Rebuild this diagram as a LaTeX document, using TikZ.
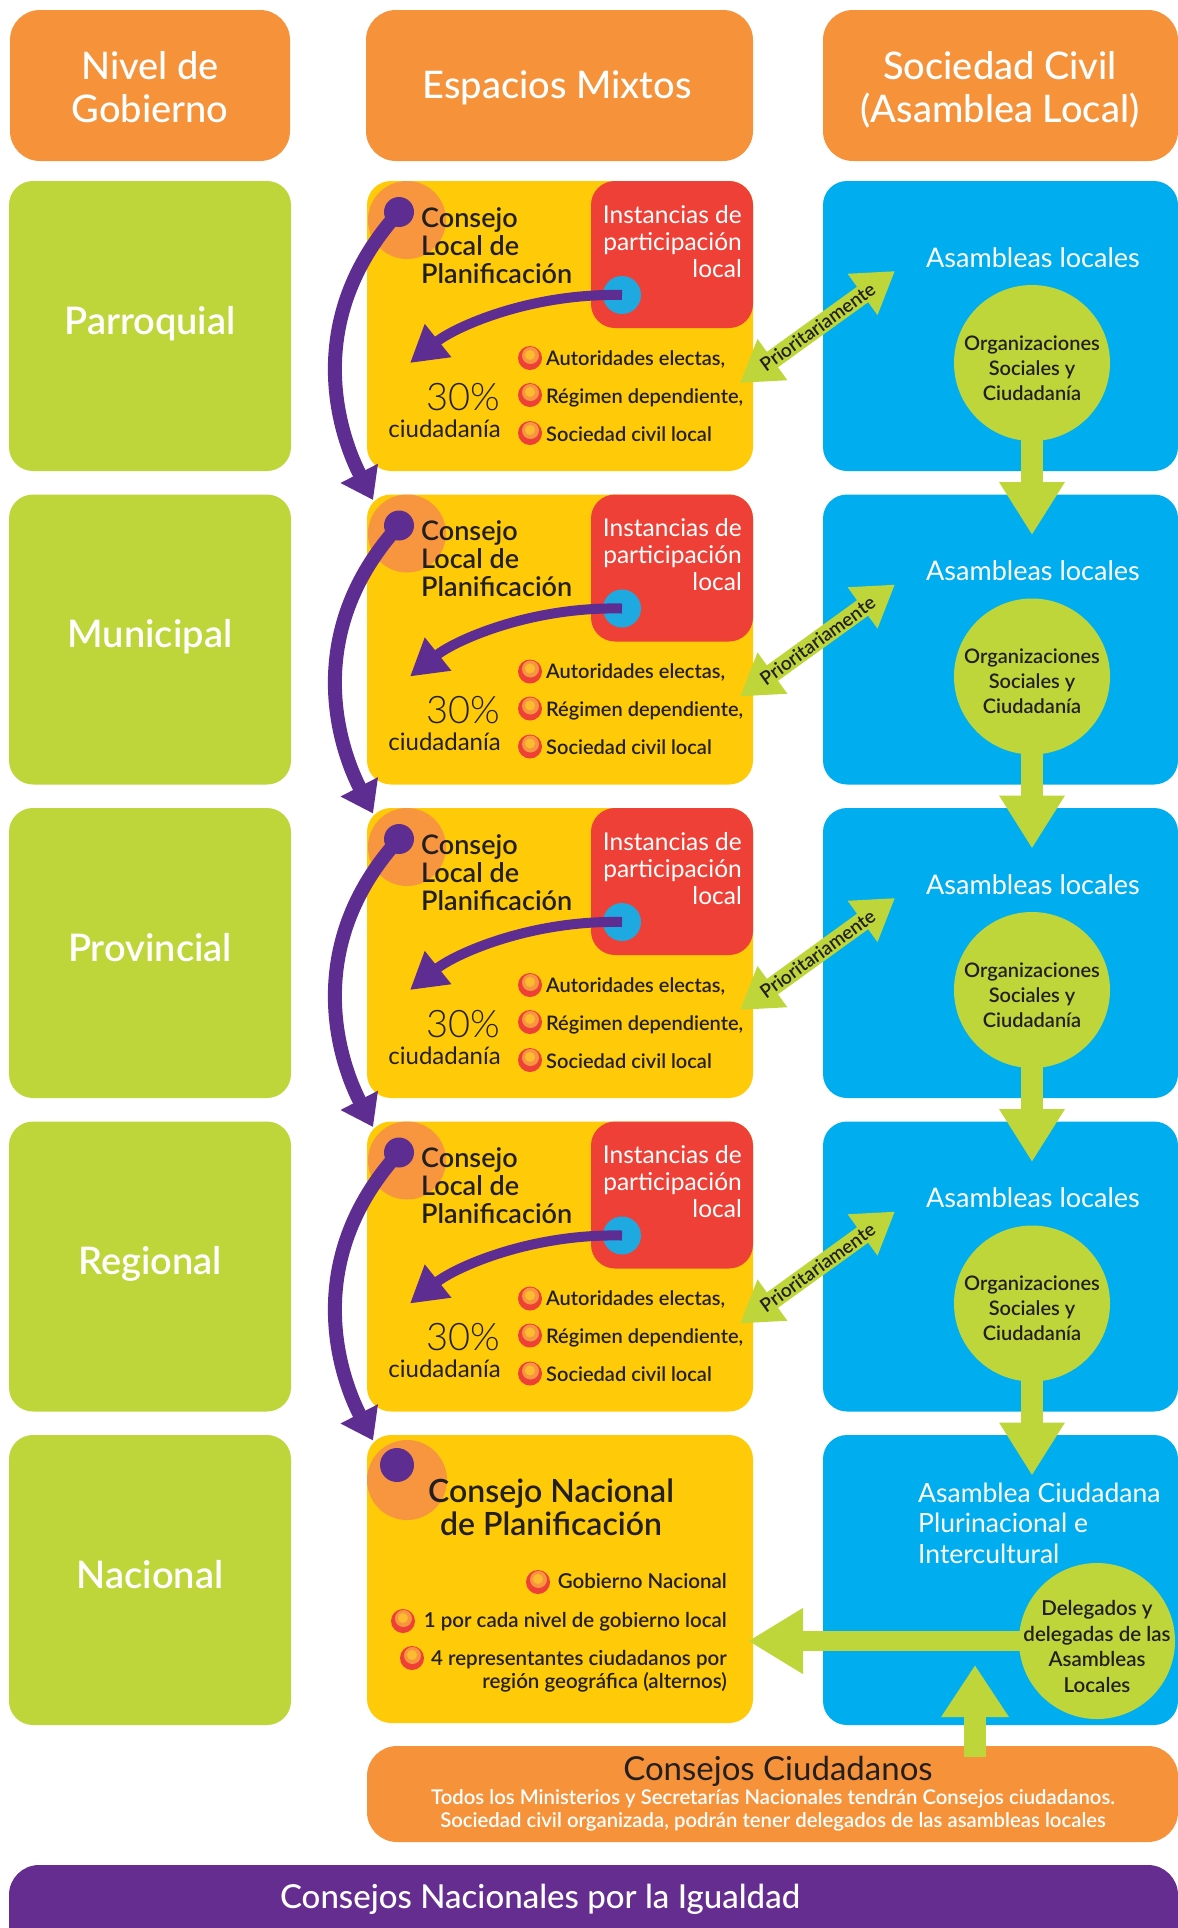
\documentclass[tikz,border=0pt]{standalone}
\usepackage{fontspec}
\setmainfont{Lato}
\newfontfamily\semi{Lato Semibold}
\newfontfamily\med{Lato Medium}
\newfontfamily\lite{Lato Light}
\usetikzlibrary{arrows.meta}

\definecolor{hdrOrange}{HTML}{F6923A}
\definecolor{lvlGreen}{HTML}{BED63A}
\definecolor{mixYellow}{HTML}{FFCB08}
\definecolor{instRed}{HTML}{EE4036}
\definecolor{civBlue}{HTML}{00AEEF}
\definecolor{flowPurple}{HTML}{5E2D91}
\definecolor{barPurple}{HTML}{662D91}
\definecolor{inkDark}{HTML}{231F20}
\definecolor{dotCyan}{HTML}{1FA9E1}
\definecolor{ringOrange}{HTML}{F7963F}
\definecolor{bulYellow}{HTML}{FDBB30}

\newcommand\fsz[2]{\fontsize{#1}{#2}\selectfont}
\newcommand\tp[1]{\rule{0pt}{#1}}

\begin{document}
\begin{tikzpicture}[x=1pt,y=-1pt,
  tile/.style={rounded corners=24pt},
  hdrtxt/.style={text=white, inner sep=0pt, font=\fsz{38}{43}\med, align=center},
  lvltxt/.style={text=white, inner sep=0pt, font=\fsz{38}{40}\semi},
  cltxt/.style={text=inkDark, inner sep=0pt, font=\fsz{27}{28}\semi, align=left},
  insttxt/.style={text=white, inner sep=0pt, font=\fsz{24.5}{27}, align=right},
  pcttxt/.style={text=inkDark, inner sep=0pt, font=\fsz{38}{40}\lite},
  citxt/.style={text=inkDark, inner sep=0pt, font=\fsz{24}{25}},
  bultxt/.style={text=inkDark, inner sep=0pt, font=\fsz{20}{23}\semi, align=right},
  pritxt/.style={text=inkDark, inner sep=0pt, font=\fsz{19}{19}\semi},
  asmtxt/.style={text=white, inner sep=0pt, font=\fsz{27}{30.5}, align=left},
  orgtxt/.style={text=inkDark, inner sep=0pt, font=\fsz{20}{25}\semi, align=center},
  pdot/.style={circle, fill=flowPurple, minimum size=30pt, inner sep=0pt},
  cdot/.style={circle, fill=dotCyan, minimum size=38pt, inner sep=0pt},
  orgc/.style={circle, fill=lvlGreen, minimum size=156pt, inner sep=0pt},
  parc/.style={draw=flowPurple, line width=14pt, -{Triangle[length=30pt,width=40pt]}},
  pcurve/.style={draw=flowPurple, line width=10pt, -{Triangle[length=36pt,width=40pt]}},
  parrow/.style={draw=lvlGreen, line width=19pt, {Triangle[length=40pt,width=48pt]}-{Triangle[length=40pt,width=48pt]}},
  garrow/.style={draw=lvlGreen, line width=22pt, -{Triangle[length=53pt,width=62pt]}},
  dotbul/.pic={
    \fill[instRed] (0,0) circle (12);
    \fill[ringOrange] (0.5,-2.5) circle (8.5);
    \fill[bulYellow] (0,-3) circle (5);
  }
]
\useasboundingbox (0,0) rectangle (1178,1928);
\begin{scope}
\clip (0,0) rectangle (1178,1928);
\fill[white] (0,0) rectangle (1178,1928);

% column headers
\fill[hdrOrange, rounded corners=30pt] (10,10) rectangle (290,161);
\fill[hdrOrange, rounded corners=30pt] (366,10) rectangle (753,161);
\fill[hdrOrange, rounded corners=30pt] (823,10) rectangle (1178,161);
\node[hdrtxt, anchor=north] (hNivel) at (150,51) {\tp{28pt}Nivel de\\Gobierno};
\node[hdrtxt, anchor=base] (hMix) at (557,98) {Espacios Mixtos};
\node[hdrtxt, anchor=north] (hCivil) at (1000,51) {\tp{28pt}Sociedad Civil\\(Asamblea Local)};

% tiles of the four local levels
\foreach \k/\lvl in {1/Parroquial,2/Municipal,3/Provincial,4/Regional}{
  \pgfmathsetmacro\T{181+313.5*(\k-1)}
  \fill[lvlGreen, tile] (9,\T) rectangle (291,\T+290);
  \node[lvltxt, anchor=base] (lvl\k) at (150,\T+153) {\lvl};
  \fill[mixYellow, tile] (367,\T) rectangle (753,\T+290);
  \begin{scope}
    \clip[tile] (367,\T) rectangle (753,\T+290);
    \fill[ringOrange] (407,\T+39) circle (39);
  \end{scope}
  \fill[instRed, tile] (591,\T) rectangle (753,\T+147);
  \fill[civBlue, tile] (823,\T) rectangle (1178,\T+290);
}

% national level tiles
\fill[lvlGreen, tile] (9,1435) rectangle (291,1725);
\node[lvltxt, anchor=base] (lvl5) at (150,1588) {Nacional};
\fill[mixYellow, tile] (367,1435) rectangle (753,1723);
\begin{scope}
  \clip[tile] (367,1435) rectangle (753,1723);
  \fill[ringOrange] (407,1480) circle (40);
\end{scope}
\fill[civBlue, tile] (823,1435) rectangle (1178,1725);

% citizen councils and equality councils
\fill[hdrOrange, rounded corners=30pt] (367,1746) rectangle (1178,1842);
\fill[barPurple, rounded corners=30pt] (9,1865) rectangle (1178,1990);

% contents and flows of the local levels
\foreach \k in {1,...,4}{
  \pgfmathsetmacro\T{181+313.5*(\k-1)}
  \node[pdot] (pd\k) at (399,\T+31) {};
  \coordinate (at\k) at (373,\T+319);
  \draw[parc] (pd\k.center) .. controls (300,\T+140) and (340,\T+255) .. (at\k);
  \node[cltxt, anchor=north west] (cl\k) at (421,\T+26) {\tp{20pt}Consejo\\Local de\\Planificación};
  \node[insttxt, anchor=north east] (inst\k) at (742,\T+23) {\tp{19pt}Instancias de\\participación\\local};
  \node[cdot] (cy\k) at (622,\T+114) {};
  \coordinate (pt\k) at (410,\T+182);
  \draw[pcurve] (cy\k.center) .. controls (530,\T+112) and (455,\T+146) .. (pt\k);
  \node[pcttxt, anchor=base east] (pct\k) at (500,\T+229) {30\%};
  \node[citxt, anchor=base east] (ci\k) at (501,\T+256) {ciudadanía};
  \pic at (530,\T+177) {dotbul};
  \pic at (530,\T+214) {dotbul};
  \pic at (530,\T+252) {dotbul};
  \node[bultxt, anchor=base west] (ba\k) at (546,\T+184) {Autoridades electas,};
  \node[bultxt, anchor=base west] (bb\k) at (546,\T+222) {Régimen dependiente,};
  \node[bultxt, anchor=base west] (bc\k) at (546,\T+260) {Sociedad civil local};
  \coordinate (pl\k) at (740,\T+202);
  \coordinate (pr\k) at (895,\T+90);
  \draw[parrow] (pl\k) -- node[pritxt, sloped] (pri\k) {Prioritariamente} (pr\k);
  \node[asmtxt, anchor=base] (asm\k) at (1033,\T+86) {Asambleas locales};
  \node[orgc] (org\k) at (1032,\T+182) {};
  \node[orgtxt, anchor=north] (orgt\k) at (1032,\T+154) {\tp{15pt}Organizaciones\\Sociales y\\Ciudadanía};
  \coordinate (dt\k) at (1032,\T+354);
  \draw[garrow, shorten <=-10pt] (org\k.south) -- (dt\k);
}

% national planning council
\node[pdot, minimum size=34pt] (pd5) at (397,1465) {};
\node[cltxt, font=\fsz{32}{33}\semi, align=center, anchor=north] (cnp) at (551,1479) {\tp{23pt}Consejo Nacional\\de Planificación};
\pic at (538,1582) {dotbul};
\pic at (403,1621) {dotbul};
\pic at (412,1658) {dotbul};
\node[bultxt, font=\fsz{20.5}{23}\semi, anchor=base east] (na) at (727,1588) {Gobierno Nacional};
\node[bultxt, font=\fsz{20.5}{23}\semi, anchor=base east] (nb) at (727,1627) {1 por cada nivel de gobierno local};
\node[bultxt, font=\fsz{20.5}{23}\semi, anchor=north east] (nc) at (727,1650) {\tp{15pt}4 representantes ciudadanos por\\región geográfica (alternos)};

% national citizen assembly
\node[asmtxt, font=\fsz{26.5}{30.5}, anchor=north west] (acp) at (918,1482) {\tp{20pt}Asamblea Ciudadana\\Plurinacional e\\Intercultural};
\node[orgc] (del) at (1097,1641) {};
\coordinate (natTip) at (748,1641);
\draw[draw=lvlGreen, line width=20pt, -{Triangle[length=55pt,width=62pt]}, shorten <=-10pt] (del.west) -- (natTip);
\node[orgtxt, font=\fsz{20.5}{25.7}\semi, anchor=north] (delt) at (1097,1600) {\tp{15pt}Delegados y\\delegadas de las\\Asambleas\\Locales};
\coordinate (upBase) at (975,1757);
\coordinate (upTip) at (975,1665);
\draw[draw=lvlGreen, line width=22pt, -{Triangle[length=52pt,width=64pt]}] (upBase) -- (upTip);

% bottom texts
\node[text=inkDark, inner sep=0pt, font=\fsz{33}{35}, anchor=base] (cc) at (778,1780) {Consejos Ciudadanos};
\node[text=white, inner sep=0pt, font=\fsz{20.3}{23}\semi, align=center, anchor=north] (cct) at (773,1789) {\tp{14pt}Todos los Ministerios y Secretarías Nacionales tendrán Consejos ciudadanos.\\Sociedad civil organizada, podrán tener delegados de las asambleas locales};
\node[text=white, inner sep=0pt, font=\fsz{33}{35}\med, anchor=base] (cni) at (540,1908) {Consejos Nacionales por la Igualdad};
\end{scope}
\end{tikzpicture}
\end{document}
